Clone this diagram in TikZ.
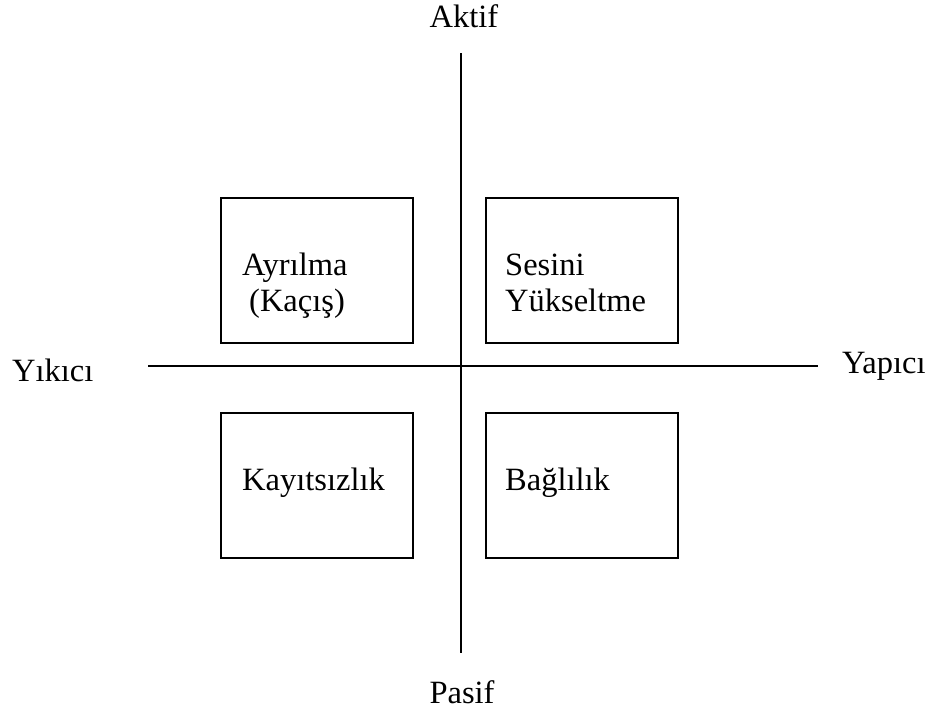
\documentclass[tikz,border=0pt]{standalone}
\usepackage{fontspec}
\setmainfont{Liberation Serif}
\begin{document}
\begin{tikzpicture}[x=1pt,y=-1pt,
  axis/.style={line width=2pt,black},
  quadbox/.style={draw=black,line width=1.8pt,rectangle,minimum width=192pt,minimum height=145pt,inner sep=0pt,anchor=north west},
  lbl/.style={anchor=base west,inner sep=0pt,font=\fontsize{32.5}{37}\selectfont},
  axlbl/.style={anchor=base,inner sep=0pt,font=\fontsize{32.5}{37}\selectfont}]
\useasboundingbox (0,0) rectangle (928,710);
% quadrant boxes
\node[quadbox] (tl) at (220,197) {};
\node[quadbox] (tr) at (485,197) {};
\node[quadbox] (bl) at (220,412) {};
\node[quadbox] (br) at (485,412) {};
% axes
\coordinate (top) at (461,53);
\coordinate (bottom) at (461,653);
\coordinate (left) at (148,365.5);
\coordinate (right) at (818,365.5);
\draw[axis] (top) -- (bottom);
\draw[axis] (left) -- (right);
% axis labels
\node[axlbl] (aktif) at (464,27) {Aktif};
\node[axlbl] (pasif) at (462,703) {Pasif};
\node[lbl] (yikici) at (12,381) {Yıkıcı};
\node[lbl] (yapici) at (842,373) {Yapıcı};
% quadrant texts
\node[lbl] (ayr) at (242,275) {Ayrılma};
\node[lbl] (kac) at (249,311) {(Kaçış)};
\node[lbl] (ses) at (505,275) {Sesini};
\node[lbl] (yuk) at (505,311) {Yükseltme};
\node[lbl] (kay) at (242,490) {Kayıtsızlık};
\node[lbl] (bag) at (505,490) {Bağlılık};
\end{tikzpicture}
\end{document}
